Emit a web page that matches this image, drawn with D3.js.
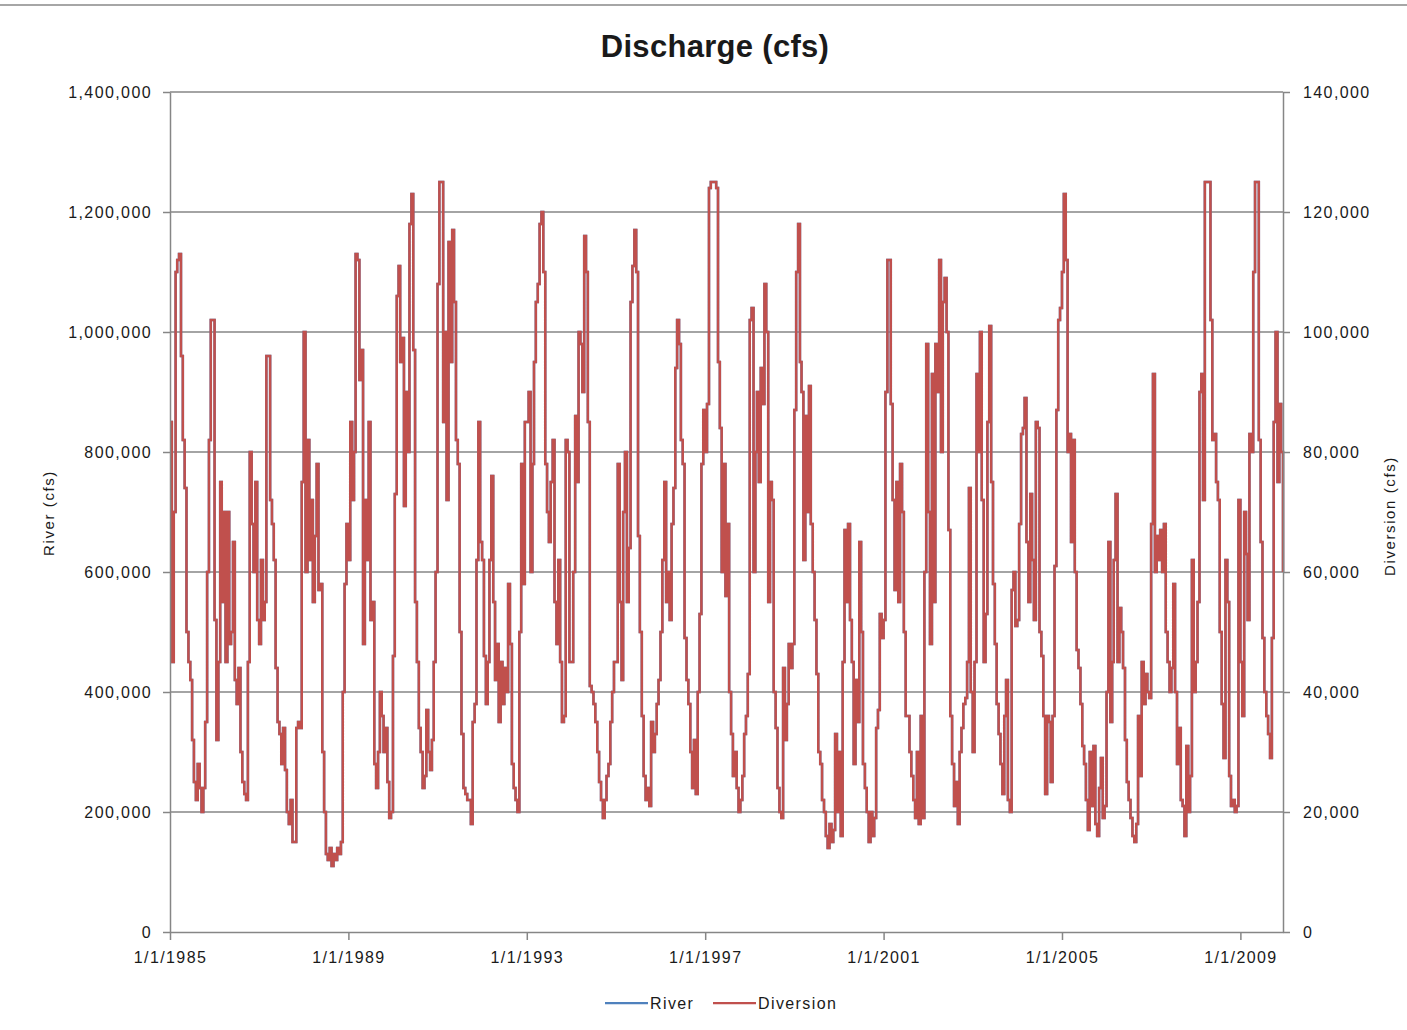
<!DOCTYPE html>
<html>
<head>
<meta charset="utf-8">
<script src="https://cdn.jsdelivr.net/npm/d3@7"></script>
<style>
  body { margin: 0; background: #fff; }
  text { font-family: "Liberation Sans", Arial, sans-serif; fill: #1a1a1a; }
</style>
</head>
<body>
<div id="chart"></div>
<script>
// Diversion (thousand cfs, right axis), read on the 1st and 16th of each month
const div1985 = [85,45,70,110,112,113,96,82,74,50,45,42,32,25,22,28,24,20,24,35,60,82,102,102];
const div1986 = [52,32,45,75,55,70,45,70,48,50,65,42,38,44,30,25,23,22,45,80,68,60,75,52];
const div1987 = [48,62,52,55,96,96,72,68,62,44,35,33,28,34,27,20,18,22,15,15,34,35,34,75];
const div1988 = [100,60,82,62,72,55,66,78,57,58,30,20,13,12,14,11,13,12,14,13,15,40,58,68];
const div1989 = [62,85,72,80,113,112,92,97,48,72,62,85,52,55,28,24,30,40,36,30,34,25,19,20];
const div1990 = [46,73,106,111,95,99,71,90,80,118,123,97,55,45,34,30,24,26,37,30,27,32,45,60];
const div1991 = [108,125,125,85,100,72,115,95,117,105,82,78,50,33,24,23,22,22,18,35,38,62,85,65];
const div1992 = [62,46,38,45,62,76,55,42,48,35,45,38,44,40,58,48,28,24,22,20,50,78,58,85];
const div1993 = [85,90,60,78,95,105,108,118,120,110,78,70,65,75,82,55,48,62,45,35,36,82,80,45];
const div1994 = [45,60,86,75,100,98,90,116,110,85,41,40,38,35,30,25,22,19,22,26,28,35,40,45];
const div1995 = [45,78,55,42,70,80,55,64,105,111,117,110,66,50,36,26,22,24,21,35,30,33,38,42];
const div1996 = [50,62,75,55,60,52,68,74,94,102,98,82,78,49,42,38,30,24,32,23,40,53,78,87];
const div1997 = [80,88,124,125,125,125,124,95,84,60,78,56,68,40,33,26,30,24,20,22,26,33,36,43];
const div1998 = [102,104,60,80,90,75,94,88,108,100,55,75,72,40,34,24,20,19,44,32,38,48,44,48];
const div1999 = [87,110,118,95,90,62,86,70,91,68,60,52,43,30,28,22,20,16,14,18,15,17,33,20];
const div2000 = [30,16,45,67,55,68,52,45,28,42,35,65,50,28,24,20,15,20,16,19,34,37,53,49];
const div2001 = [52,90,112,112,88,72,57,75,55,78,70,50,36,36,30,26,22,19,30,18,36,19,60,98];
const div2002 = [70,48,93,55,98,90,112,80,105,109,100,67,36,28,21,25,18,30,34,38,39,45,74,40];
const div2003 = [30,45,93,80,100,72,45,53,85,101,75,58,48,38,33,28,23,36,42,22,20,57,60,51];
const div2004 = [52,68,83,84,89,65,55,73,62,52,85,84,50,46,36,23,36,35,25,36,61,87,102,104];
const div2005 = [110,123,112,80,83,65,82,60,47,44,38,31,28,22,17,30,21,31,18,16,24,29,19,21];
const div2006 = [40,65,35,45,62,73,45,54,50,44,32,25,22,19,16,15,18,36,26,45,38,43,40,39];
const div2007 = [68,93,60,66,62,67,60,68,50,45,40,44,58,40,28,34,22,21,16,31,20,26,62,40];
const div2008 = [45,55,90,93,72,125,125,125,102,82,83,75,72,50,38,29,62,55,26,21,22,20,21,72];
const div2009 = [45,36,70,63,52,83,80,110,125,125,82,65,49,40,36,33,29,49,85,100,75,88,80,60];

// River (thousand cfs, left axis) - mostly hidden under the diversion line
const river1985 = [850,450,700,1100,1120,1130,960,820,740,500,450,420,320,250,220,280,240,200,240,350,600,820,1020,1020];
const river1986 = [520,320,450,750,550,700,450,700,480,500,650,420,380,440,300,250,230,220,450,800,680,600,750,520];
const river1987 = [480,620,520,550,960,960,720,680,620,440,350,330,280,340,270,200,180,220,150,150,340,350,340,750];
const river1988 = [1000,600,820,620,720,550,660,780,570,580,300,200,130,120,140,110,130,120,140,130,150,400,580,680];
const river1989 = [620,850,720,800,1130,1120,920,970,480,720,620,850,520,550,280,240,300,400,360,300,340,250,190,200];
const river1990 = [460,730,1060,1110,950,990,710,900,800,1180,1230,970,550,450,340,300,240,260,370,300,270,320,450,600];
const river1991 = [1080,1250,1250,850,1000,720,1150,950,1170,1050,820,780,500,330,240,230,220,220,180,350,380,620,850,650];
const river1992 = [620,460,380,450,620,760,550,420,480,350,450,380,440,400,580,480,280,240,220,200,500,780,580,850];
const river1993 = [850,900,600,780,950,1050,1080,1180,1200,1100,780,700,650,750,820,550,480,620,450,350,360,820,800,450];
const river1994 = [450,600,860,750,1000,980,900,1160,1100,850,410,400,380,350,300,250,220,190,220,260,280,350,400,450];
const river1995 = [450,780,550,420,700,800,550,640,1050,1110,1170,1100,660,500,360,260,220,240,210,350,300,330,380,420];
const river1996 = [500,620,750,550,600,520,680,740,940,1020,980,820,780,490,420,380,300,240,320,230,400,530,780,870];
const river1997 = [800,880,1240,1250,1250,1250,1240,950,840,600,780,560,680,400,330,260,300,240,200,220,260,330,360,430];
const river1998 = [1020,1040,600,800,900,750,940,880,1080,1000,550,750,720,400,340,240,200,190,440,320,380,480,440,480];
const river1999 = [870,1100,1180,950,900,620,860,700,910,680,600,520,430,300,280,220,200,160,140,180,150,170,330,200];
const river2000 = [300,160,450,670,550,680,520,450,280,420,350,650,500,280,240,200,150,200,160,190,340,370,530,490];
const river2001 = [520,900,1120,1120,880,720,570,750,550,780,700,500,360,360,300,260,220,190,300,180,360,190,600,980];
const river2002 = [700,480,930,550,980,900,1120,800,1050,1090,1000,670,360,280,210,250,180,300,340,380,390,450,740,400];
const river2003 = [300,450,930,800,1000,720,450,530,850,1010,750,580,480,380,330,280,230,360,420,220,200,570,600,510];
const river2004 = [520,680,830,840,890,650,550,730,620,520,850,840,500,460,360,230,360,350,250,360,610,870,1020,1040];
const river2005 = [1100,1230,1120,800,830,650,820,600,470,440,380,310,280,220,170,300,210,310,180,160,240,290,190,210];
const river2006 = [400,650,350,450,620,730,450,540,500,440,320,250,220,190,160,150,180,360,260,450,380,430,400,390];
const river2007 = [680,930,600,660,620,670,600,680,500,450,400,440,580,400,280,340,220,210,160,310,200,260,620,400];
const river2008 = [450,550,900,930,720,1250,1250,1250,1020,820,830,750,720,500,380,290,620,550,260,210,220,200,210,720];
const river2009 = [450,360,700,630,520,830,800,1100,1250,1250,820,650,490,400,360,330,290,490,850,1000,750,880,800,600];

const firstYear = 1985;
const xTickYears = [1985, 1989, 1993, 1997, 2001, 2005, 2009];
const leftTicks = [0, 200000, 400000, 600000, 800000, 1000000, 1200000, 1400000];
const rightTicks = [0, 20000, 40000, 60000, 80000, 100000, 120000, 140000];
const seriesNames = ["River", "Diversion"];
const seriesColors = ["#4F81BD", "#C0504D"];

const diversionYears = [div1985, div1986, div1987, div1988, div1989, div1990, div1991, div1992, div1993,
  div1994, div1995, div1996, div1997, div1998, div1999, div2000, div2001, div2002, div2003, div2004,
  div2005, div2006, div2007, div2008, div2009];
const riverYears = [river1985, river1986, river1987, river1988, river1989, river1990, river1991, river1992,
  river1993, river1994, river1995, river1996, river1997, river1998, river1999, river2000, river2001,
  river2002, river2003, river2004, river2005, river2006, river2007, river2008, river2009];

function toPoints(yearArrays) {
  const pts = [];
  yearArrays.forEach((vals, k) => {
    vals.forEach((v, i) => {
      pts.push({ date: new Date(firstYear + k, Math.floor(i / 2), i % 2 ? 16 : 1), value: v * 1000 });
    });
  });
  return pts;
}
const riverData = toPoints(riverYears);
const diversionData = toPoints(diversionYears);

const W = 1407, H = 1030;
const plot = { left: 170, right: 1283, top: 92, bottom: 932 };

const svg = d3.select("#chart").append("svg")
  .attr("width", W).attr("height", H)
  .style("display", "block");

svg.append("rect").attr("width", W).attr("height", H).attr("fill", "#fff");
svg.append("line")
  .attr("x1", 0).attr("x2", W).attr("y1", 5).attr("y2", 5)
  .attr("stroke", "#a6a6a6").attr("stroke-width", 2);

const x = d3.scaleTime()
  .domain([new Date(1985, 0, 1), new Date(2009, 11, 16)])
  .range([plot.left, plot.right]);
const yL = d3.scaleLinear().domain([0, 1400000]).range([plot.bottom, plot.top]);
const yR = d3.scaleLinear().domain([0, 140000]).range([plot.bottom, plot.top]);

// gridlines
svg.append("g").selectAll("line")
  .data(leftTicks.slice(1))
  .enter().append("line")
  .attr("x1", plot.left).attr("x2", plot.right)
  .attr("y1", d => yL(d)).attr("y2", d => yL(d))
  .attr("stroke", "#868686").attr("stroke-width", 1.4);

// series
const riverLine = d3.line().x(d => x(d.date)).y(d => yL(d.value)).curve(d3.curveStepAfter);
const divLine = d3.line().x(d => x(d.date)).y(d => yR(d.value)).curve(d3.curveStepAfter);

svg.append("path").datum(riverData)
  .attr("d", riverLine).attr("fill", "none")
  .attr("stroke", seriesColors[0]).attr("stroke-width", 2.5);
svg.append("path").datum(diversionData)
  .attr("d", divLine).attr("fill", "none")
  .attr("stroke", seriesColors[1]).attr("stroke-width", 2.5);

// axes
function styleAxis(g) {
  g.selectAll("path, line").attr("stroke", "#868686").attr("stroke-width", 1.5);
  g.selectAll("text")
    .style("font-family", "'Liberation Sans', Arial, sans-serif")
    .style("font-size", "16px")
    .style("letter-spacing", "1.4px")
    .attr("fill", "#1a1a1a");
}

svg.append("g")
  .attr("transform", `translate(${plot.left},0)`)
  .call(d3.axisLeft(yL).tickValues(leftTicks).tickFormat(d3.format(","))
    .tickSize(7).tickSizeOuter(0).tickPadding(11))
  .call(styleAxis);

svg.append("g")
  .attr("transform", `translate(${plot.right},0)`)
  .call(d3.axisRight(yR).tickValues(rightTicks).tickFormat(d3.format(","))
    .tickSize(7).tickSizeOuter(0).tickPadding(13))
  .call(styleAxis);

svg.append("g")
  .attr("transform", `translate(0,${plot.bottom})`)
  .call(d3.axisBottom(x).tickValues(xTickYears.map(y => new Date(y, 0, 1)))
    .tickFormat(d3.timeFormat("%-m/%-d/%Y"))
    .tickSize(8).tickSizeOuter(0).tickPadding(12))
  .call(styleAxis);

// title
svg.append("text")
  .attr("x", 715).attr("y", 57)
  .attr("text-anchor", "middle")
  .style("font-size", "31px").style("font-weight", "bold")
  .style("letter-spacing", "0.3px")
  .text("Discharge (cfs)");

// axis titles
svg.append("text")
  .attr("transform", "translate(49,513) rotate(-90)")
  .attr("text-anchor", "middle").attr("dy", "0.35em")
  .style("font-size", "15px").style("letter-spacing", "1.6px")
  .text("River (cfs)");
svg.append("text")
  .attr("transform", "translate(1390,516) rotate(-90)")
  .attr("text-anchor", "middle").attr("dy", "0.35em")
  .style("font-size", "15px").style("letter-spacing", "1.6px")
  .text("Diversion (cfs)");

// legend
const legendX = [605, 713];
const legend = svg.append("g").selectAll("g")
  .data(seriesNames)
  .enter().append("g")
  .attr("transform", (d, i) => `translate(${legendX[i]},1003)`);
legend.append("line")
  .attr("x1", 0).attr("x2", 43).attr("y1", 0).attr("y2", 0)
  .attr("stroke", (d, i) => seriesColors[i]).attr("stroke-width", 2.25);
legend.append("text")
  .attr("x", 45).attr("dy", "0.35em")
  .style("font-size", "16px").style("letter-spacing", "1.4px")
  .text(d => d);
</script>
</body>
</html>
